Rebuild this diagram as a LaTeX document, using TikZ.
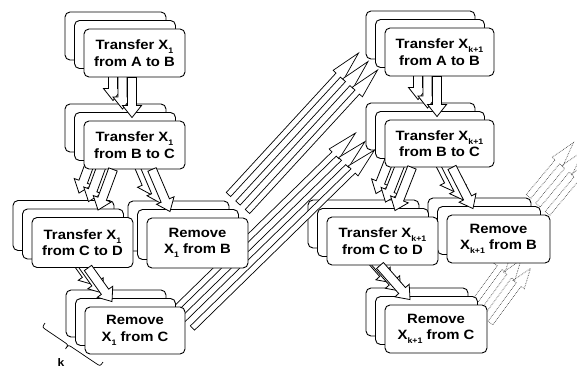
\documentclass[tikz,border=0pt]{standalone}
\usepackage{fontspec}
\newfontfamily\boxfont[FakeStretch=1.1]{Liberation Sans Bold}
\usetikzlibrary{calc}
\pgfdeclarelayer{bg}
\pgfsetlayers{bg,main}

% lowered index, as in X_1 or X_{k+1}
\newcommand\lowidx[1]{\raisebox{-0.3em}{\fontsize{8pt}{8pt}\selectfont #1}}
% print a label only on the front sheet of a stack
\newcommand\onfront[1]{\ifnum\i=2\relax #1\fi}
% hollow block arrow: style, node A, offset A, node B, offset B, half shaft, half head, head length
\newcommand\blockarrow[8]{%
  \coordinate (ta) at ($(#2)+(#3)$);
  \coordinate (tb) at ($(#4)+(#5)$);
  \coordinate (hb) at ($(tb)!#8!(ta)$);
  \path[#1] ($(ta)!#6!90:(tb)$) -- ($(hb)!#6!90:(tb)$) -- ($(hb)!#7!90:(tb)$)
     -- (tb) -- ($(hb)!#7!-90:(tb)$) -- ($(hb)!#6!-90:(tb)$) -- ($(ta)!#6!-90:(tb)$) -- cycle;}

\begin{document}
\begin{tikzpicture}[x=1pt,y=-1pt,
  stackbox/.style={draw=black, fill=white, line width=0.9pt, rounded corners=5pt,
    align=center, inner sep=0pt,
    font=\boxfont\fontsize{13.5pt}{16.5pt}\selectfont},
  sz/.style 2 args={minimum width=#1pt, minimum height=#2pt},
  blk/.style={draw=black, fill=white, line width=0.8pt, line join=miter},
  longarrow/.style={draw=black, fill=white, line width=0.7pt, line join=miter},
  ghost/.style={draw=black!70, densely dotted, line width=0.7pt}]
\useasboundingbox (0,0) rectangle (577,371);
\clip (0,0) rectangle (577,371);

% three sheets per stack: back (0), middle (1), front (2)
\foreach \i/\dx/\dy in {0/-19/-17, 1/-9.5/-8.5, 2/0/0}{
  % left group, item X_1
  \node[stackbox, sz={101}{48}] (L1-\i) at (134.5+\dx,53+\dy)
    {\onfront{Transfer X\lowidx{1}\\from A to B}};
  \node[stackbox, sz={101}{48}] (L2-\i) at (134.5+\dx,145+\dy)
    {\onfront{Transfer X\lowidx{1}\\from B to C}};
  \node[stackbox, sz={101}{50}] (L3-\i) at (82.5+\dx,242.5+\dy)
    {\onfront{Transfer X\lowidx{1}\\from C to D}};
  \node[stackbox, sz={101}{50}] (L4-\i) at (197.5+\dx,243+\dy)
    {\onfront{Remove\\X\lowidx{1} from B}};
  \node[stackbox, sz={100}{47}] (L5-\i) at (135+\dx,330.5+\dy)
    {\onfront{Remove\\X\lowidx{1} from C}};
  % right group, item X_{k+1}
  \node[stackbox, sz={109}{48}] (R1-\i) at (439.5+\dx,52+\dy)
    {\onfront{Transfer X\lowidx{k+1}\\from A to B}};
  \node[stackbox, sz={109}{47}] (R2-\i) at (439.5+\dx,143.5+\dy)
    {\onfront{Transfer X\lowidx{k+1}\\from B to C}};
  \node[stackbox, sz={111}{48}] (R3-\i) at (382.5+\dx,241+\dy)
    {\onfront{Transfer X\lowidx{k+1}\\from C to D}};
  \node[stackbox, sz={103}{48}] (R4-\i) at (498.5+\dx,239+\dy)
    {\onfront{Remove\\X\lowidx{k+1} from B}};
  \node[stackbox, sz={102}{48}] (R5-\i) at (436+\dx,329+\dy)
    {\onfront{Remove\\X\lowidx{k+1} from C}};

  % steps within a group
  \blockarrow{blk}{L1-\i.south}{-2.5,0}{L2-\i.north}{-2.5,-3}{4.5pt}{9.5pt}{12pt}
  \blockarrow{blk}{L2-\i.south}{-21.5,0}{L3-\i.north}{15.5,-7}{4.5pt}{9.5pt}{12pt}
  \blockarrow{blk}{L2-\i.south}{17.5,0}{L4-\i.north}{-27.5,-6}{4.5pt}{9.5pt}{12pt}
  \blockarrow{blk}{L3-\i.south}{5.5,0}{L5-\i.north}{-23,-5}{4.5pt}{9.5pt}{12pt}
  \blockarrow{blk}{R1-\i.south}{-2.5,0}{R2-\i.north}{-2.5,-3}{4.5pt}{9.5pt}{12pt}
  \blockarrow{blk}{R2-\i.south}{-27.5,0}{R3-\i.north}{12.5,-6}{4.5pt}{9.5pt}{12pt}
  \blockarrow{blk}{R2-\i.south}{12.5,0}{R4-\i.north}{-25.5,-6}{4.5pt}{9.5pt}{12pt}
  \blockarrow{blk}{R3-\i.south}{-2.5,0}{R5-\i.north}{-26,-5}{4.5pt}{9.5pt}{12pt}

  % freed buffers let item X_{k+1} start
  \blockarrow{longarrow}{L4-\i.north east}{-1,-6}{R1-\i.west}{-7,18}{3pt}{7pt}{30pt}
  \blockarrow{longarrow}{L5-\i.east}{7,-2.5}{R2-\i.west}{-10,6.5}{3pt}{7pt}{30pt}

  % the same dependencies continuing to later items
  \begin{pgfonlayer}{bg}
    \blockarrow{ghost}{R4-\i.north east}{-3,-1}{R4-\i.north east}{42,-55}{3pt}{7pt}{25pt}
    \blockarrow{ghost}{R5-\i.east}{3,-6}{R4-\i.south}{32,5}{3pt}{7pt}{20pt}
  \end{pgfonlayer}
}

% depth of a stack: brace under the corners of the lowest stack
\draw[line width=0.7pt]
  (45,323) .. controls (42.2,327.2) .. (46.4,330) -- (64.1,342)
  .. controls (68.3,344.8) .. (65.5,348.9)
  .. controls (68.3,344.8) .. (72.5,347.6) -- (96,363.4)
  .. controls (100.2,366.2) .. (103,362);
\node[font=\boxfont\fontsize{11pt}{11pt}\selectfont] (klabel) at (61,363) {k};
\end{tikzpicture}
\end{document}
